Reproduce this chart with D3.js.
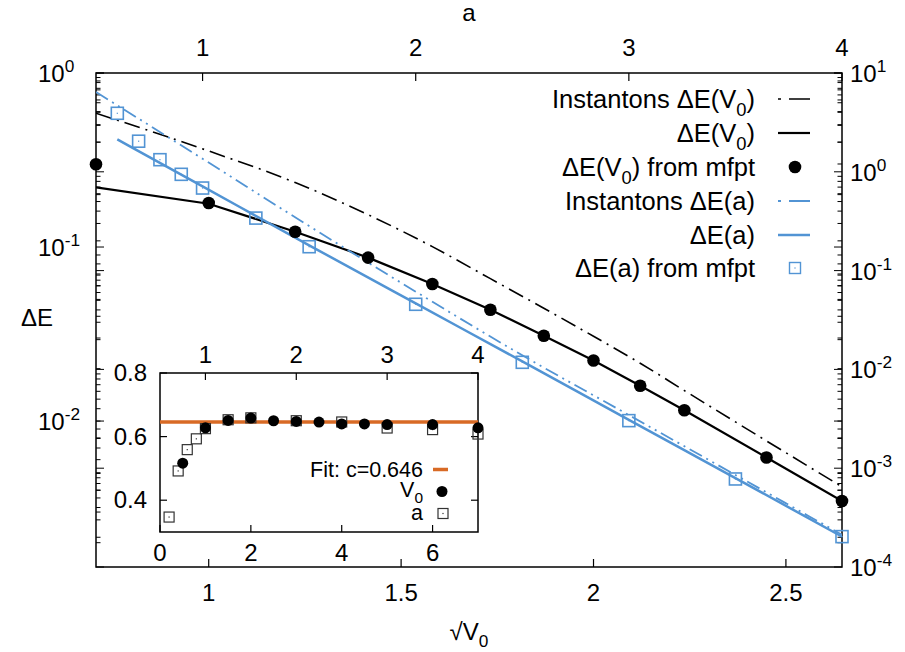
<!DOCTYPE html>
<html>
<head>
<meta charset="utf-8">
<script src="https://cdn.jsdelivr.net/npm/d3@7"></script>
<style>
  body { margin: 0; background: #fff; }
  text { font-family: "Liberation Sans", Arial, sans-serif; fill: #000; }
</style>
</head>
<body>
<script>
// V0 values of the mfpt runs (bottom axis is sqrt(V0))
var V0 = [0.5, 1, 1.5, 2, 2.5, 3, 3.5, 4, 4.5, 5, 6, 7];
var dEV0Mfpt = [0.299, 0.179, 0.1225, 0.0869, 0.0613, 0.0436, 0.0309, 0.0223, 0.01596, 0.01153, 0.00618, 0.00347];
var dEV0 = [0.2204, 0.1774, 0.1225, 0.0869, 0.0613, 0.0436, 0.0309, 0.0223, 0.01596, 0.01153, 0.00618, 0.00347];
var instV0 = [0.5875, 0.3563, 0.2348, 0.1534, 0.1005, 0.0658, 0.0445, 0.0307, 0.0215, 0.01497, 0.00769, 0.00419];

// a values (top axis) and right axis values
var aMfpt = [0.6, 0.7, 0.8, 0.9, 1, 1.25, 1.5, 2, 2.5, 3, 3.5, 4];
var dEaMfpt = [3.91, 2.04, 1.326, 0.943, 0.685, 0.340, 0.1745, 0.0456, 0.0118, 0.00303, 0.000778, 0.000203];
var aLine = [0.6, 1, 1.5, 2, 2.5, 3, 3.5, 4];
var dEa = [2.13, 0.711, 0.1803, 0.0465, 0.01205, 0.00308, 0.000794, 0.000203];
var aInst = [0.5, 1, 1.5, 2, 2.5, 3, 3.5, 4];
var instA = [6.42, 1.355, 0.2825, 0.0612, 0.0139, 0.00345, 0.000855, 0.000212];

// inset: ratio values
var insetV0 = [0.5165, 0.6276, 0.6508, 0.6584, 0.6498, 0.6476, 0.6457, 0.640, 0.640, 0.638, 0.638, 0.6276];
var insetA = [0.347, 0.492, 0.559, 0.593, 0.625, 0.653, 0.659, 0.650, 0.646, 0.627, 0.622, 0.608];
var fitC = 0.646;

// tick values
var xTicks = [1, 1.5, 2, 2.5];
var aTicks = [1, 2, 3, 4];
var yLeftDecades = [-2, -1, 0];
var yRightDecades = [-4, -3, -2, -1, 0, 1];
var insetXTicks = [0, 2, 4, 6];
var insetATicks = [1, 2, 3, 4];
var insetYTicks = [0.4, 0.6, 0.8];

var W = 905, H = 652;
var blue = '#5294d4', orange = '#d86a25';
var FS = 24, LFS = 25.5, IFS = 21.5;

var svg = d3.select('body').append('svg').attr('width', W).attr('height', H);

var L = 96, R = 842, T = 73, B = 567;
var xV = d3.scaleLinear().domain([Math.SQRT1_2, Math.sqrt(7)]).range([L, R]);
var xA = d3.scaleLinear().domain([0.5, 4]).range([L, R]);
var yL = d3.scaleLog().domain([1.45e-3, 1]).range([B, T]);
var yR = d3.scaleLog().domain([1e-4, 10]).range([B, T]);

svg.append('defs').append('clipPath').attr('id', 'clipMain')
    .append('rect').attr('x', L).attr('y', T).attr('width', R - L).attr('height', B - T);

// helper for text with sub/superscripts: parts = [[text, 'n'|'sub'|'sup'], ...]
function richText(g, x, y, parts, anchor, size) {
    var t = g.append('text').attr('x', x).attr('y', y)
        .attr('text-anchor', anchor).style('font-size', size + 'px');
    var shift = 0;
    parts.forEach(function(p) {
        var s = t.append('tspan').text(p[0]);
        var target = p[1] == 'sub' ? size * 0.3 : (p[1] == 'sup' ? -size * 0.42 : 0);
        s.attr('dy', target - shift);
        shift = target;
        if (p[1] != 'n') s.style('font-size', (size * 0.72) + 'px');
    });
    return t;
}

// frame
svg.append('rect').attr('x', L).attr('y', T).attr('width', R - L).attr('height', B - T)
    .attr('fill', 'none').attr('stroke', '#000').attr('stroke-width', 1.5);

// bottom ticks + labels
xTicks.forEach(function(v) {
    svg.append('line').attr('x1', xV(v)).attr('x2', xV(v)).attr('y1', B).attr('y2', B - 8)
        .attr('stroke', '#000').attr('stroke-width', 1.2);
    svg.append('text').attr('x', xV(v)).attr('y', B + 34).attr('text-anchor', 'middle')
        .style('font-size', FS + 'px').text(v);
});
// top ticks + labels
aTicks.forEach(function(v) {
    svg.append('line').attr('x1', xA(v)).attr('x2', xA(v)).attr('y1', T).attr('y2', T + 8)
        .attr('stroke', '#000').attr('stroke-width', 1.2);
    svg.append('text').attr('x', xA(v)).attr('y', T - 17).attr('text-anchor', 'middle')
        .style('font-size', FS + 'px').text(v);
});

// log ticks on both sides (each axis mirrored)
function logTicks(scale) {
    var out = [];
    var lo = scale.domain()[0], hi = scale.domain()[1];
    for (var d = Math.floor(Math.log10(lo)); d <= Math.ceil(Math.log10(hi)); d++) {
        for (var k = 1; k <= 9; k++) {
            var v = k * Math.pow(10, d);
            if (v >= lo * 0.999 && v <= hi * 1.001) out.push({ v: v, major: k == 1 });
        }
    }
    return out;
}
[yL, yR].forEach(function(scale) {
    logTicks(scale).forEach(function(t) {
        var y = scale(t.v), len = t.major ? 8 : 4.5;
        [L, R].forEach(function(xe) {
            var dir = xe == L ? 1 : -1;
            svg.append('line').attr('x1', xe).attr('x2', xe + dir * len).attr('y1', y).attr('y2', y)
                .attr('stroke', '#000').attr('stroke-width', 1);
        });
    });
});
yLeftDecades.forEach(function(d) {
    richText(svg, 38, yL(Math.pow(10, d)) + 9, [['10', 'n'], [String(d), 'sup']], 'start', FS);
});
yRightDecades.forEach(function(d) {
    richText(svg, 850, yR(Math.pow(10, d)) + 9, [['10', 'n'], [String(d), 'sup']], 'start', FS);
});

// axis titles
svg.append('text').attr('x', 469).attr('y', 21).attr('text-anchor', 'middle')
    .style('font-size', FS + 'px').text('a');
richText(svg, 37, 326, [['ΔE', 'n']], 'middle', FS);
richText(svg, 469, 640, [['√V', 'n'], ['0', 'sub']], 'middle', FS);

// data lines
var plot = svg.append('g').attr('clip-path', 'url(#clipMain)');
var lineVsmooth = d3.line().x(function(d) { return xV(Math.sqrt(d[0])); }).y(function(d) { return yL(d[1]); })
    .curve(d3.curveMonotoneX);
var lineVstraight = d3.line().x(function(d) { return xV(Math.sqrt(d[0])); }).y(function(d) { return yL(d[1]); });
var lineA = d3.line().x(function(d) { return xA(d[0]); }).y(function(d) { return yR(d[1]); })
    .curve(d3.curveMonotoneX);

plot.append('path').datum(d3.zip(V0, instV0)).attr('d', lineVsmooth)
    .attr('fill', 'none').attr('stroke', '#000').attr('stroke-width', 1.6)
    .attr('stroke-dasharray', '16,6,2,6');
plot.append('path').datum(d3.zip(V0, dEV0)).attr('d', lineVstraight)
    .attr('fill', 'none').attr('stroke', '#000').attr('stroke-width', 2.2);
plot.append('path').datum(d3.zip(aInst, instA)).attr('d', lineA)
    .attr('fill', 'none').attr('stroke', blue).attr('stroke-width', 1.8)
    .attr('stroke-dasharray', '14,5,2,5,2,5');
plot.append('path').datum(d3.zip(aLine, dEa)).attr('d', lineA)
    .attr('fill', 'none').attr('stroke', blue).attr('stroke-width', 2.5);

// points
function square(g, x, y, s, color, sw) {
    g.append('rect').attr('x', x - s / 2).attr('y', y - s / 2).attr('width', s).attr('height', s)
        .attr('fill', 'none').attr('stroke', color).attr('stroke-width', sw);
    g.append('rect').attr('x', x - 0.6).attr('y', y - 0.6).attr('width', 1.2).attr('height', 1.2)
        .attr('fill', color);
}
d3.zip(aMfpt, dEaMfpt).forEach(function(d) {
    square(svg, xA(d[0]), yR(d[1]), 12, blue, 1.6);
});
svg.selectAll('circle.mfpt').data(d3.zip(V0, dEV0Mfpt)).enter().append('circle')
    .attr('cx', function(d) { return xV(Math.sqrt(d[0])); })
    .attr('cy', function(d) { return yL(d[1]); })
    .attr('r', 6.3).attr('fill', '#000');

// legend
var legY = [99, 133, 167, 201, 235, 268];
var lx = 755, s1 = 778, s2 = 810;
richText(svg, lx, legY[0] + 9, [['Instantons ΔE(V', 'n'], ['0', 'sub'], [')', 'n']], 'end', LFS);
svg.append('line').attr('x1', s1).attr('x2', s2).attr('y1', legY[0]).attr('y2', legY[0])
    .attr('stroke', '#000').attr('stroke-width', 1.6).attr('stroke-dasharray', '3,8,21');
richText(svg, lx, legY[1] + 9, [['ΔE(V', 'n'], ['0', 'sub'], [')', 'n']], 'end', LFS);
svg.append('line').attr('x1', s1).attr('x2', s2).attr('y1', legY[1]).attr('y2', legY[1])
    .attr('stroke', '#000').attr('stroke-width', 2.2);
richText(svg, lx, legY[2] + 9, [['ΔE(V', 'n'], ['0', 'sub'], [') from mfpt', 'n']], 'end', LFS);
svg.append('circle').attr('cx', 795).attr('cy', legY[2]).attr('r', 6.3).attr('fill', '#000');
richText(svg, lx, legY[3] + 9, [['Instantons ΔE(a)', 'n']], 'end', LFS);
svg.append('line').attr('x1', s1).attr('x2', s2).attr('y1', legY[3]).attr('y2', legY[3])
    .attr('stroke', blue).attr('stroke-width', 1.8).attr('stroke-dasharray', '3,8,21');
richText(svg, lx, legY[4] + 9, [['ΔE(a)', 'n']], 'end', LFS);
svg.append('line').attr('x1', s1).attr('x2', s2).attr('y1', legY[4]).attr('y2', legY[4])
    .attr('stroke', blue).attr('stroke-width', 2.5);
richText(svg, lx, legY[5] + 9, [['ΔE(a) from mfpt', 'n']], 'end', LFS);
square(svg, 795, legY[5], 11, blue, 1.4);

// inset
var iL = 160, iR = 478, iT = 373, iB = 532;
var ixV = d3.scaleLinear().domain([0, 7]).range([iL, iR]);
var ixA = d3.scaleLinear().domain([0.5, 4]).range([iL, iR]);
var iy = d3.scaleLinear().domain([0.3, 0.8]).range([iB, iT]);
var inset = svg.append('g');
inset.append('rect').attr('x', iL).attr('y', iT).attr('width', iR - iL).attr('height', iB - iT)
    .attr('fill', '#fff').attr('stroke', '#000').attr('stroke-width', 1.5);
insetXTicks.forEach(function(v) {
    inset.append('line').attr('x1', ixV(v)).attr('x2', ixV(v)).attr('y1', iB).attr('y2', iB - 7)
        .attr('stroke', '#000').attr('stroke-width', 1.2);
    inset.append('text').attr('x', ixV(v)).attr('y', iB + 29).attr('text-anchor', 'middle')
        .style('font-size', FS + 'px').text(v);
});
insetATicks.forEach(function(v) {
    inset.append('line').attr('x1', ixA(v)).attr('x2', ixA(v)).attr('y1', iT).attr('y2', iT + 7)
        .attr('stroke', '#000').attr('stroke-width', 1.2);
    inset.append('text').attr('x', ixA(v)).attr('y', iT - 10).attr('text-anchor', 'middle')
        .style('font-size', FS + 'px').text(v);
});
insetYTicks.forEach(function(v) {
    [[iL, 1], [iR, -1]].forEach(function(e) {
        inset.append('line').attr('x1', e[0]).attr('x2', e[0] + e[1] * 7).attr('y1', iy(v)).attr('y2', iy(v))
            .attr('stroke', '#000').attr('stroke-width', 1.2);
    });
    inset.append('text').attr('x', 147).attr('y', iy(v) + 8).attr('text-anchor', 'end')
        .style('font-size', FS + 'px').text(v.toFixed(1));
});
inset.append('line').attr('x1', iL).attr('x2', iR).attr('y1', iy(fitC)).attr('y2', iy(fitC))
    .attr('stroke', orange).attr('stroke-width', 3.5);
d3.zip(aMfpt, insetA).forEach(function(d) {
    square(inset, ixA(d[0]), iy(d[1]), 10, '#333', 1.2);
});
inset.selectAll('circle').data(d3.zip(V0, insetV0)).enter().append('circle')
    .attr('cx', function(d) { return ixV(d[0]); })
    .attr('cy', function(d) { return iy(d[1]); })
    .attr('r', 5.5).attr('fill', '#000');

// inset legend
richText(inset, 423, 477, [['Fit: c=' + fitC, 'n']], 'end', IFS);
inset.append('line').attr('x1', 433).attr('x2', 448).attr('y1', 469.5).attr('y2', 469.5)
    .attr('stroke', orange).attr('stroke-width', 3.5);
richText(inset, 423, 497, [['V', 'n'], ['0', 'sub']], 'end', IFS);
inset.append('circle').attr('cx', 442).attr('cy', 491.5).attr('r', 5.5).attr('fill', '#000');
richText(inset, 423, 520, [['a', 'n']], 'end', IFS);
square(inset, 443, 513.5, 10, '#333', 1.2);
</script>
</body>
</html>
